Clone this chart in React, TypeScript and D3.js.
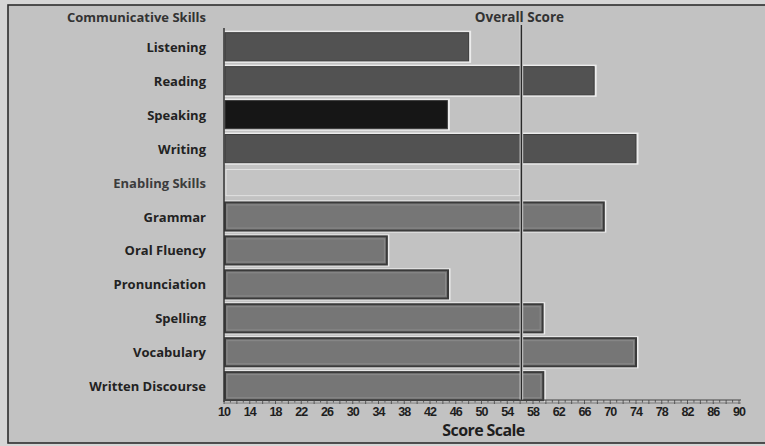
import React, { useEffect, useRef } from "react";
import * as d3 from "d3";

// skills shown in the chart, top to bottom
const skills = [
  "Listening",
  "Reading",
  "Speaking",
  "Writing",
  "Enabling Skills",
  "Grammar",
  "Oral Fluency",
  "Pronunciation",
  "Spelling",
  "Vocabulary",
  "Written Discourse",
];
const groupOf = ["comm", "comm", "speak", "comm", "header", "enab", "enab", "enab", "enab", "enab", "enab"];
const scores = [48, 67.5, 44.7, 74, null, 69, 35.3, 44.8, 59.5, 74, 59.6];
const overallScore = 56.2;
const tickValues = d3.range(10, 91, 4);

const W = 765;
const H = 446;

export default function App() {
  const svgRef = useRef<SVGSVGElement>(null);

  useEffect(() => {
    const svg = d3.select(svgRef.current);
    svg.selectAll("*").remove();

    const x = d3.scaleLinear().domain([10, 90]).range([224, 739]);
    const y = d3.scaleBand<string>().domain(skills).range([30, 403]).paddingInner(0.17).paddingOuter(0.08);
    const font = "'Open Sans', 'DejaVu Sans', sans-serif";

    // page and panel
    svg.append("rect").attr("width", W).attr("height", H).attr("fill", "#d6d6d6");
    svg.append("rect")
      .attr("x", 8).attr("y", 5).attr("width", W).attr("height", 438)
      .attr("fill", "#c2c2c2").attr("stroke", "#2e2e2e").attr("stroke-width", 1.6);

    // header labels
    svg.append("text")
      .attr("x", 206).attr("y", 22).attr("text-anchor", "end")
      .attr("font-family", font).attr("font-weight", 700).attr("font-size", 13)
      .attr("fill", "#333").text("Communicative Skills");
    svg.append("text")
      .attr("x", x(overallScore) - 2).attr("y", 22).attr("text-anchor", "middle")
      .attr("font-family", font).attr("font-weight", 700).attr("font-size", 13.5)
      .attr("fill", "#333").text("Overall Score");

    // row labels
    svg.append("g").selectAll("text")
      .data(skills)
      .join("text")
      .attr("x", 206)
      .attr("y", (d) => (y(d) as number) + y.bandwidth() / 2 + 5)
      .attr("text-anchor", "end")
      .attr("font-family", font).attr("font-weight", 700).attr("font-size", 13)
      .attr("fill", (d, i) => (groupOf[i] === "header" ? "#3c3c3c" : "#222"))
      .text((d) => d);

    // enabling skills band
    const hy = y("Enabling Skills") as number;
    svg.append("rect")
      .attr("x", x(10) + 2).attr("y", hy + 1).attr("width", x(overallScore) - x(10) - 4).attr("height", y.bandwidth() - 2)
      .attr("fill", "#c4c4c4").attr("stroke", "#e2e2e2").attr("stroke-width", 1);

    const bars = skills
      .map((s, i) => ({ s, v: scores[i], g: groupOf[i] }))
      .filter((d) => d.v !== null);

    const fillOf: Record<string, string> = { comm: "#525252", speak: "#161616", enab: "#767676" };

    // white halo behind bars
    svg.append("g").selectAll("rect")
      .data(bars)
      .join("rect")
      .attr("x", x(10))
      .attr("y", (d) => (y(d.s) as number) - 2)
      .attr("width", (d) => x(d.v as number) - x(10) + 2.5)
      .attr("height", y.bandwidth() + 4)
      .attr("fill", "#ececec");

    svg.append("g").selectAll("rect")
      .data(bars)
      .join("rect")
      .attr("x", x(10) + 1)
      .attr("y", (d) => y(d.s) as number)
      .attr("width", (d) => x(d.v as number) - x(10) - 1)
      .attr("height", y.bandwidth())
      .attr("fill", (d) => fillOf[d.g])
      .attr("stroke", "#3a3a3a")
      .attr("stroke-width", (d) => (d.g === "enab" ? 2 : 1));

    // inner light line on enabling bars
    svg.append("g").selectAll("rect")
      .data(bars.filter((d) => d.g === "enab"))
      .join("rect")
      .attr("x", x(10) + 3)
      .attr("y", (d) => (y(d.s) as number) + 2.5)
      .attr("width", (d) => x(d.v as number) - x(10) - 5.5)
      .attr("height", y.bandwidth() - 5)
      .attr("fill", "none")
      .attr("stroke", "#8a8a8a")
      .attr("stroke-width", 1);

    // overall score line with halo
    const ox = x(overallScore);
    svg.append("line").attr("x1", ox).attr("x2", ox).attr("y1", 25).attr("y2", 400)
      .attr("stroke", "#dcdcdc").attr("stroke-width", 3.5);
    svg.append("line").attr("x1", ox).attr("x2", ox).attr("y1", 25).attr("y2", 400)
      .attr("stroke", "#2a2a2a").attr("stroke-width", 1.6);

    // left axis line
    svg.append("line").attr("x1", x(10)).attr("x2", x(10)).attr("y1", 28).attr("y2", 402)
      .attr("stroke", "#333").attr("stroke-width", 1.5);

    // x axis ruler
    const ax = svg.append("g").attr("transform", "translate(0,400)");
    ax.append("line").attr("x1", x(10)).attr("x2", x(90) + 2).attr("y1", 0).attr("y2", 0)
      .attr("stroke", "#444").attr("stroke-width", 1);
    ax.append("line").attr("x1", x(10)).attr("x2", x(90) + 2).attr("y1", 3).attr("y2", 3)
      .attr("stroke", "#666").attr("stroke-width", 0.8);
    ax.selectAll("line.minor")
      .data(d3.range(10, 91, 1))
      .join("line")
      .attr("class", "minor")
      .attr("x1", (d) => x(d)).attr("x2", (d) => x(d))
      .attr("y1", 0).attr("y2", (d) => (d % 2 === 0 ? 4 : 2.5))
      .attr("stroke", "#444").attr("stroke-width", 0.8);
    ax.selectAll("text")
      .data(tickValues)
      .join("text")
      .attr("x", (d) => x(d))
      .attr("y", 16)
      .attr("text-anchor", "middle")
      .attr("font-family", "'Liberation Sans', Arial, sans-serif")
      .attr("font-weight", 700)
      .attr("font-size", 12.5)
      .attr("letter-spacing", -1)
      .attr("fill", "#1e1e1e")
      .text((d) => d);

    svg.append("text")
      .attr("x", (x(10) + x(90)) / 2 + 2).attr("y", 436)
      .attr("text-anchor", "middle")
      .attr("font-family", font).attr("font-weight", 700).attr("font-size", 16)
      .attr("letter-spacing", -0.6)
      .attr("fill", "#1e1e1e")
      .text("Score Scale");
  }, []);

  return (
    <svg
      ref={svgRef}
      width={W}
      height={H}
      style={{ position: "absolute", left: 0, top: 0, display: "block" }}
    />
  );
}
